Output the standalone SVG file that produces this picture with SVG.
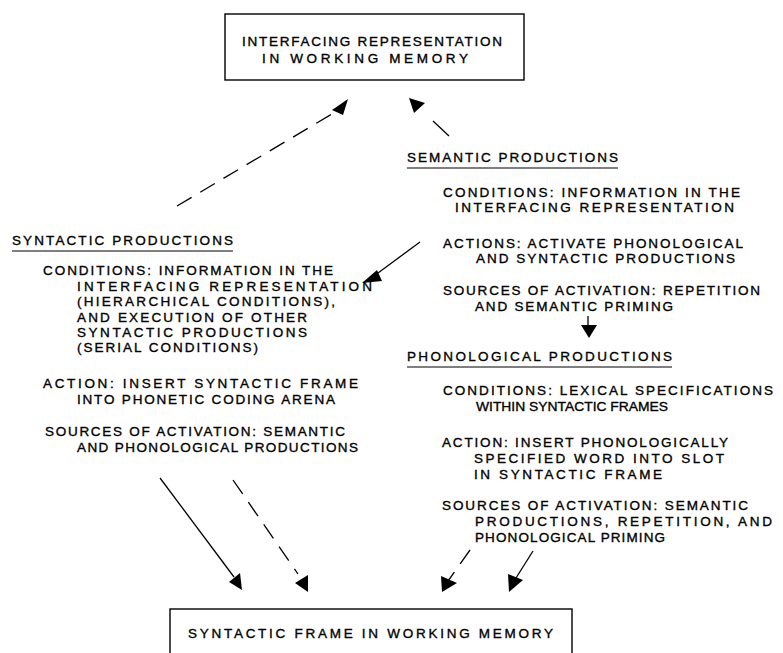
<svg xmlns="http://www.w3.org/2000/svg" width="783" height="653" viewBox="0 0 783 653">
<style>
  text { font-family: "Liberation Sans", Arial, sans-serif; font-size: 13.5px; fill: #000; stroke: #000; stroke-width: 0.35; }
  .box { fill: #fff; stroke: #000; stroke-width: 1.4; }
  .ln { stroke: #000; stroke-width: 1.3; fill: none; }
  .dash { stroke: #000; stroke-width: 1.3; fill: none; stroke-dasharray: 17 10; }
  .ul { stroke: #000; stroke-width: 1.2; }
  .ah { fill: #000; stroke: none; }
</style>
<rect width="783" height="653" fill="#fff"/>

<g id="interfacing-representation">
  <rect class="box" x="225" y="14" width="299" height="66"/>
  <text x="242" y="46" textLength="260" lengthAdjust="spacing">INTERFACING REPRESENTATION</text>
  <text x="262" y="63" textLength="206" lengthAdjust="spacing">IN WORKING MEMORY</text>
</g>

<g id="semantic-productions">
  <text x="407" y="162" textLength="211" lengthAdjust="spacing">SEMANTIC PRODUCTIONS</text>
  <line class="ul" x1="407" y1="168" x2="618" y2="168"/>
  <text x="443" y="197" textLength="297" lengthAdjust="spacing">CONDITIONS: INFORMATION IN THE</text>
  <text x="455" y="212" textLength="279" lengthAdjust="spacing">INTERFACING REPRESENTATION</text>
  <text x="443" y="248" textLength="300" lengthAdjust="spacing">ACTIONS: ACTIVATE PHONOLOGICAL</text>
  <text x="476" y="263" textLength="259" lengthAdjust="spacing">AND SYNTACTIC PRODUCTIONS</text>
  <text x="443" y="295" textLength="317" lengthAdjust="spacing">SOURCES OF ACTIVATION: REPETITION</text>
  <text x="475" y="311" textLength="198" lengthAdjust="spacing">AND SEMANTIC PRIMING</text>
</g>

<g id="syntactic-productions">
  <text x="12" y="245" textLength="221" lengthAdjust="spacing">SYNTACTIC PRODUCTIONS</text>
  <line class="ul" x1="12" y1="251" x2="233" y2="251"/>
  <text x="43" y="275" textLength="290" lengthAdjust="spacing">CONDITIONS: INFORMATION IN THE</text>
  <text x="77" y="291" textLength="295" lengthAdjust="spacing">INTERFACING REPRESENTATION</text>
  <text x="77" y="306" textLength="258" lengthAdjust="spacing">(HIERARCHICAL CONDITIONS),</text>
  <text x="77" y="322" textLength="230" lengthAdjust="spacing">AND EXECUTION OF OTHER</text>
  <text x="77" y="337" textLength="230" lengthAdjust="spacing">SYNTACTIC PRODUCTIONS</text>
  <text x="77" y="352" textLength="181" lengthAdjust="spacing">(SERIAL CONDITIONS)</text>
  <text x="43" y="388" textLength="315" lengthAdjust="spacing">ACTION: INSERT SYNTACTIC FRAME</text>
  <text x="77" y="404" textLength="258" lengthAdjust="spacing">INTO PHONETIC CODING ARENA</text>
  <text x="45" y="436" textLength="300" lengthAdjust="spacing">SOURCES OF ACTIVATION: SEMANTIC</text>
  <text x="77" y="452" textLength="281" lengthAdjust="spacing">AND PHONOLOGICAL PRODUCTIONS</text>
</g>

<g id="phonological-productions">
  <text x="407" y="361" textLength="265" lengthAdjust="spacing">PHONOLOGICAL PRODUCTIONS</text>
  <line class="ul" x1="407" y1="367" x2="672" y2="367"/>
  <text x="443" y="395" textLength="330" lengthAdjust="spacing">CONDITIONS: LEXICAL SPECIFICATIONS</text>
  <text x="476" y="411" textLength="192" lengthAdjust="spacingAndGlyphs">WITHIN SYNTACTIC FRAMES</text>
  <text x="442" y="447" textLength="286" lengthAdjust="spacing">ACTION: INSERT PHONOLOGICALLY</text>
  <text x="474" y="463" textLength="250" lengthAdjust="spacing">SPECIFIED WORD INTO SLOT</text>
  <text x="474" y="479" textLength="188" lengthAdjust="spacing">IN SYNTACTIC FRAME</text>
  <text x="442" y="510" textLength="306" lengthAdjust="spacing">SOURCES OF ACTIVATION: SEMANTIC</text>
  <text x="475" y="526" textLength="297" lengthAdjust="spacing">PRODUCTIONS, REPETITION, AND</text>
  <text x="475" y="542" textLength="190" lengthAdjust="spacing">PHONOLOGICAL PRIMING</text>
</g>

<g id="syntactic-frame">
  <rect class="box" x="170" y="609" width="402" height="60"/>
  <text x="188" y="638" textLength="365" lengthAdjust="spacing">SYNTACTIC FRAME IN WORKING MEMORY</text>
</g>

<g id="connectors">
  <line class="dash" x1="177" y1="206" x2="337" y2="111"/>
  <polygon class="ah" points="348,99 332,110 343,115"/>
  <line class="ln" x1="449" y1="136" x2="433" y2="121"/>
  <polygon class="ah" points="409,98 425,103 414,113"/>
  <line class="ln" x1="420" y1="242" x2="378" y2="273"/>
  <polygon class="ah" points="362,283 377,270 382,281"/>
  <line class="ln" x1="588" y1="316" x2="588" y2="326"/>
  <polygon class="ah" points="581,325 597,325 589,338"/>
  <line class="ln" x1="160" y1="478" x2="234" y2="577"/>
  <polygon class="ah" points="229,582 240,573 242,590"/>
  <line class="dash" x1="233" y1="480" x2="298" y2="574"/>
  <polygon class="ah" points="295,583 308,575 308,592"/>
  <line class="dash" x1="470" y1="550" x2="448" y2="581"/>
  <polygon class="ah" points="441,576 457,583 442,592"/>
  <line class="ln" x1="533" y1="551" x2="516" y2="578"/>
  <polygon class="ah" points="508,574 523,580 509,592"/>
</g>
</svg>
